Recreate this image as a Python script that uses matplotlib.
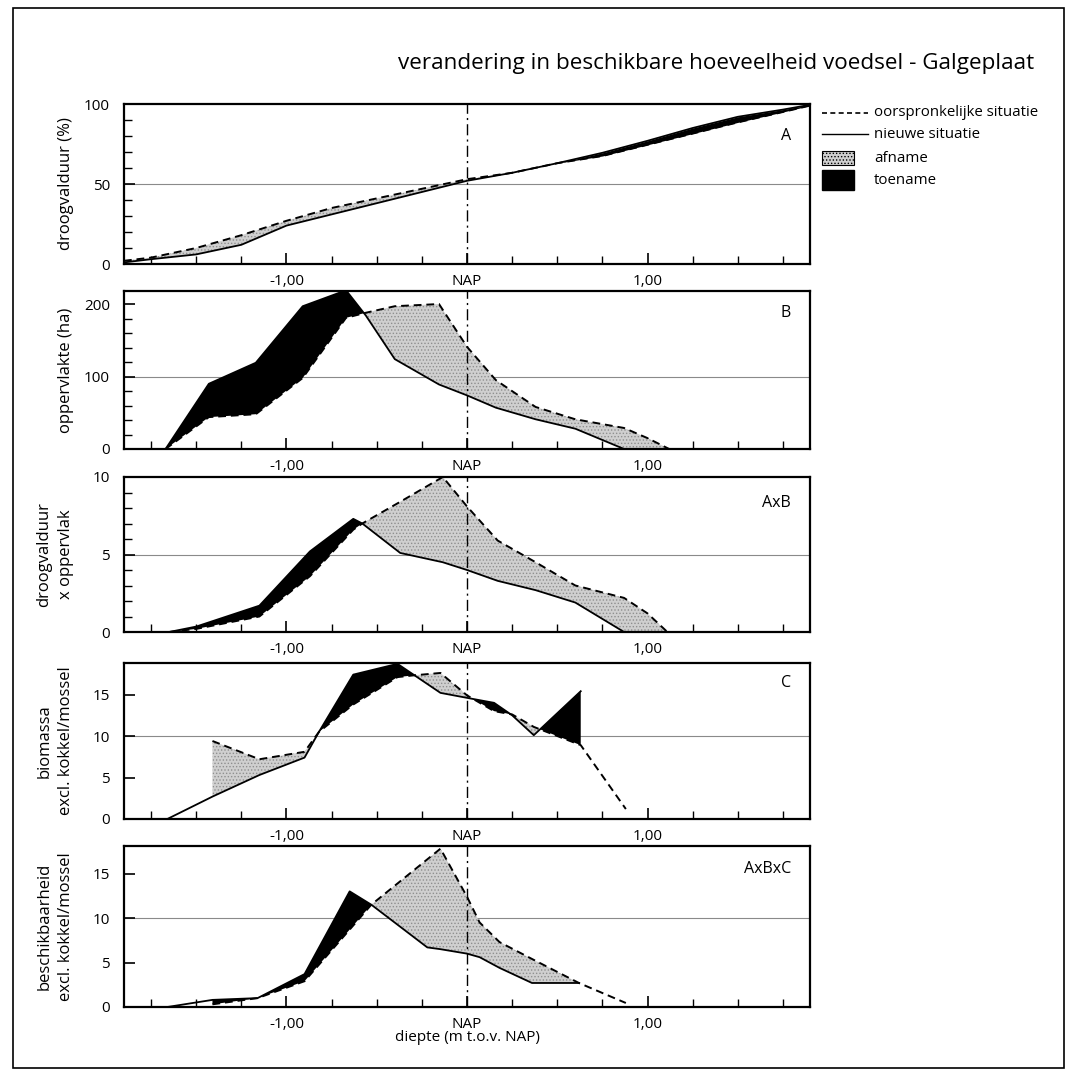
import numpy as np
import matplotlib.pyplot as plt
from matplotlib.patches import Rectangle
from matplotlib.lines import Line2D

plt.rcParams['font.family'] = ['Open Sans', 'DejaVu Sans']
plt.rcParams['hatch.linewidth'] = 0.6

nan = np.nan

# A: droogvalduur (%)
a_diepte = [-1.9, -1.75, -1.5, -1.25, -1.0, -0.75, -0.5, -0.25, 0.0, 0.25, 0.5, 0.75, 1.0, 1.25, 1.5, 1.75, 1.9]
a_oud = [2, 4, 10, 18, 27, 35, 41, 47, 53, 57, 63, 67.5, 74.5, 81.5, 88.5, 95, 99]
a_nieuw = [1, 3, 6, 12, 24, 31, 38, 45, 52, 57, 63, 69.5, 77, 85, 92, 96.5, 99.5]

# B: oppervlakte (ha)
b_diepte = [-1.67, -1.43, -1.17, -0.91, -0.67, -0.56, -0.40, -0.155, 0.0, 0.16, 0.38, 0.6, 0.87, 1.0, 1.12]
b_oud = [0, 44, 48, 98, 181, 188, 197, 200, 141, 95, 58, 41, 29, 15, 0]
b_nieuw = [0, 90, 119, 197, 219, 184, 124, 89, 74, 57, 41, 28, 0, 0, 0]

# AxB: droogvalduur x oppervlak
ab_diepte = [-1.65, -1.5, -1.15, -0.87, -0.63, -0.58, -0.37, -0.134, 0.0, 0.17, 0.38, 0.6, 0.87, 1.0, 1.11]
ab_oud = [0, 0.2, 1.0, 3.6, 6.6, 7.0, 8.4, 10.0, 8.1, 5.9, 4.5, 3.0, 2.2, 1.2, 0]
ab_nieuw = [0, 0.35, 1.7, 5.2, 7.3, 7.0, 5.1, 4.5, 4.0, 3.3, 2.7, 1.9, 0, 0, 0]

# C: biomassa
c_diepte = [-1.66, -1.41, -1.15, -0.90, -0.82, -0.63, -0.385, -0.30, -0.147, 0.0, 0.15, 0.25, 0.37, 0.63, 0.88]
c_oud = [nan, 9.4, 7.2, 8.1, 10.5, 13.8, 17.1, 17.3, 17.6, 14.9, 13.0, 12.6, 11.1, 8.9, 1.2]
c_nieuw = [0, 2.7, 5.3, 7.4, 10.5, 17.4, 18.7, 17.45, 15.2, 14.6, 14.0, 12.5, 10.1, 15.4, nan]

# AxBxC: beschikbaarheid
e_diepte = [-1.66, -1.41, -1.16, -0.90, -0.65, -0.53, -0.22, -0.147, 0.0, 0.07, 0.18, 0.36, 0.62, 0.88]
e_oud = [nan, 0.3, 1.0, 2.9, 8.7, 11.5, 16.6, 17.8, 12.4, 9.5, 7.3, 5.4, 2.7, 0.45]
e_nieuw = [0, 0.8, 1.0, 3.7, 13.0, 11.5, 6.7, 6.5, 6.0, 5.6, 4.4, 2.7, 2.7, nan]

x_ticks = [-1.0, 0.0, 1.0]
x_labels = ['-1,00', 'NAP', '1,00']
x_minor = [-1.75, -1.5, -1.25, -0.75, -0.5, -0.25, 0.25, 0.5, 0.75, 1.25, 1.5, 1.75]

panelen = [
    # (label, ylabel, x, oud, nieuw, ylim, yticks, yminor, grid)
    ('A', 'droogvalduur (%)', a_diepte, a_oud, a_nieuw, 100, [0, 50, 100], 10, 50),
    ('B', 'oppervlakte (ha)', b_diepte, b_oud, b_nieuw, 218, [0, 100, 200], 20, 100),
    ('AxB', 'droogvalduur\nx oppervlak', ab_diepte, ab_oud, ab_nieuw, 10, [0, 5, 10], 1, 5),
    ('C', 'biomassa\nexcl. kokkel/mossel', c_diepte, c_oud, c_nieuw, 18.8, [0, 5, 10, 15], None, 10),
    ('AxBxC', 'beschikbaarheid\nexcl. kokkel/mossel', e_diepte, e_oud, e_nieuw, 18.1, [0, 5, 10, 15], None, 10),
]

# pixel positions (top, bottom) of each panel, and offset of the panel letter
W, H = 1074, 1080
links, rechts = 124, 810
posities = [(104, 264), (291, 449), (477, 632), (663, 819), (846, 1007)]
letter_dy = [32, 22, 26, 20, 23]

GRIJS = '#cfcfcf'

fig = plt.figure(figsize=(W / 100, H / 100), dpi=100)


def px(x, y):
    return x / W, 1 - y / H


for (lab, ylab, x, oud, nieuw, ymax, yt, ymin_step, grid), (top, bot), dy in zip(panelen, posities, letter_dy):
    ax = fig.add_axes([links / W, 1 - bot / H, (rechts - links) / W, (bot - top) / H])
    x = np.array(x, float)
    oud = np.array(oud, float)
    nieuw = np.array(nieuw, float)
    ok = ~np.isnan(oud) & ~np.isnan(nieuw)
    xs, o, n = x[ok], oud[ok], nieuw[ok]

    ax.axhline(grid, color='#8a8a8a', lw=0.8, zorder=1)
    ax.fill_between(xs, o, n, where=n >= o, interpolate=True, color='black', lw=0, zorder=2)
    ax.fill_between(xs, o, n, where=n <= o, interpolate=True, facecolor=GRIJS,
                    edgecolor='#8f8f8f', hatch='.....', lw=0, zorder=2)
    ax.plot(x, oud, color='black', lw=1.4, ls=(0, (4, 2.5)), zorder=3)
    ax.plot(x, nieuw, color='black', lw=1.3, zorder=3)
    ax.axvline(0, color='black', lw=1.0, ls=(0, (8, 3, 1.5, 3)), zorder=4)

    ax.set_xlim(-1.9, 1.9)
    ax.set_ylim(0, ymax)
    ax.set_xticks(x_ticks)
    ax.set_xticklabels(x_labels)
    ax.set_xticks(x_minor, minor=True)
    ax.set_yticks(yt)
    if ymin_step:
        ax.set_yticks(np.arange(0, ymax + 0.01, ymin_step), minor=True)
    ax.tick_params(axis='both', which='major', direction='in', length=8, width=1.2,
                   labelsize=11, pad=10)
    ax.tick_params(axis='x', which='major', pad=7)
    ax.tick_params(axis='both', which='minor', direction='in', length=6, width=1.0)
    for s in ax.spines.values():
        s.set_linewidth(1.6)

    ax.set_ylabel(ylab, fontsize=12, linespacing=1.45)
    ax.yaxis.set_label_coords(-(links - 74) / (rechts - links), 0.5)
    ax.text(0.972, 1 - dy / (bot - top), lab, transform=ax.transAxes, ha='right',
            va='center', fontsize=11.5)

    if lab == 'AxBxC':
        ax.set_xlabel('diepte (m t.o.v. NAP)', fontsize=11, labelpad=-1)

# legend, placed by hand to the right of panel A
lx0, lx1, tx = 822, 868, 874
fig.add_artist(Line2D([lx0 / W, lx1 / W], [1 - 113 / H] * 2, color='black', lw=1.2,
                      ls=(0, (3, 2))))
fig.add_artist(Line2D([lx0 / W, lx1 / W], [1 - 134 / H] * 2, color='black', lw=1.0))
fig.add_artist(Rectangle(px(lx0, 165), 32 / W, 14 / H, facecolor=GRIJS, edgecolor='black',
                         hatch='.....', lw=0.8))
fig.add_artist(Rectangle(px(lx0, 190), 32 / W, 20 / H, facecolor='black', edgecolor='black'))
for yy, t in [(113, 'oorspronkelijke situatie'), (134, 'nieuwe situatie'),
              (158, 'afname'), (180, 'toename')]:
    fig.text(tx / W, 1 - yy / H, t, ha='left', va='center', fontsize=10.8)

fig.text(1034 / W, 1 - 64 / H, 'verandering in beschikbare hoeveelheid voedsel - Galgeplaat',
         ha='right', va='center', fontsize=16.2)

# frame around the whole figure
fig.add_artist(Rectangle(px(13, 1068), (1064 - 13) / W, (1068 - 8) / H,
                         fill=False, edgecolor='black', lw=1.2))

fig.savefig('out.png', dpi=100)
